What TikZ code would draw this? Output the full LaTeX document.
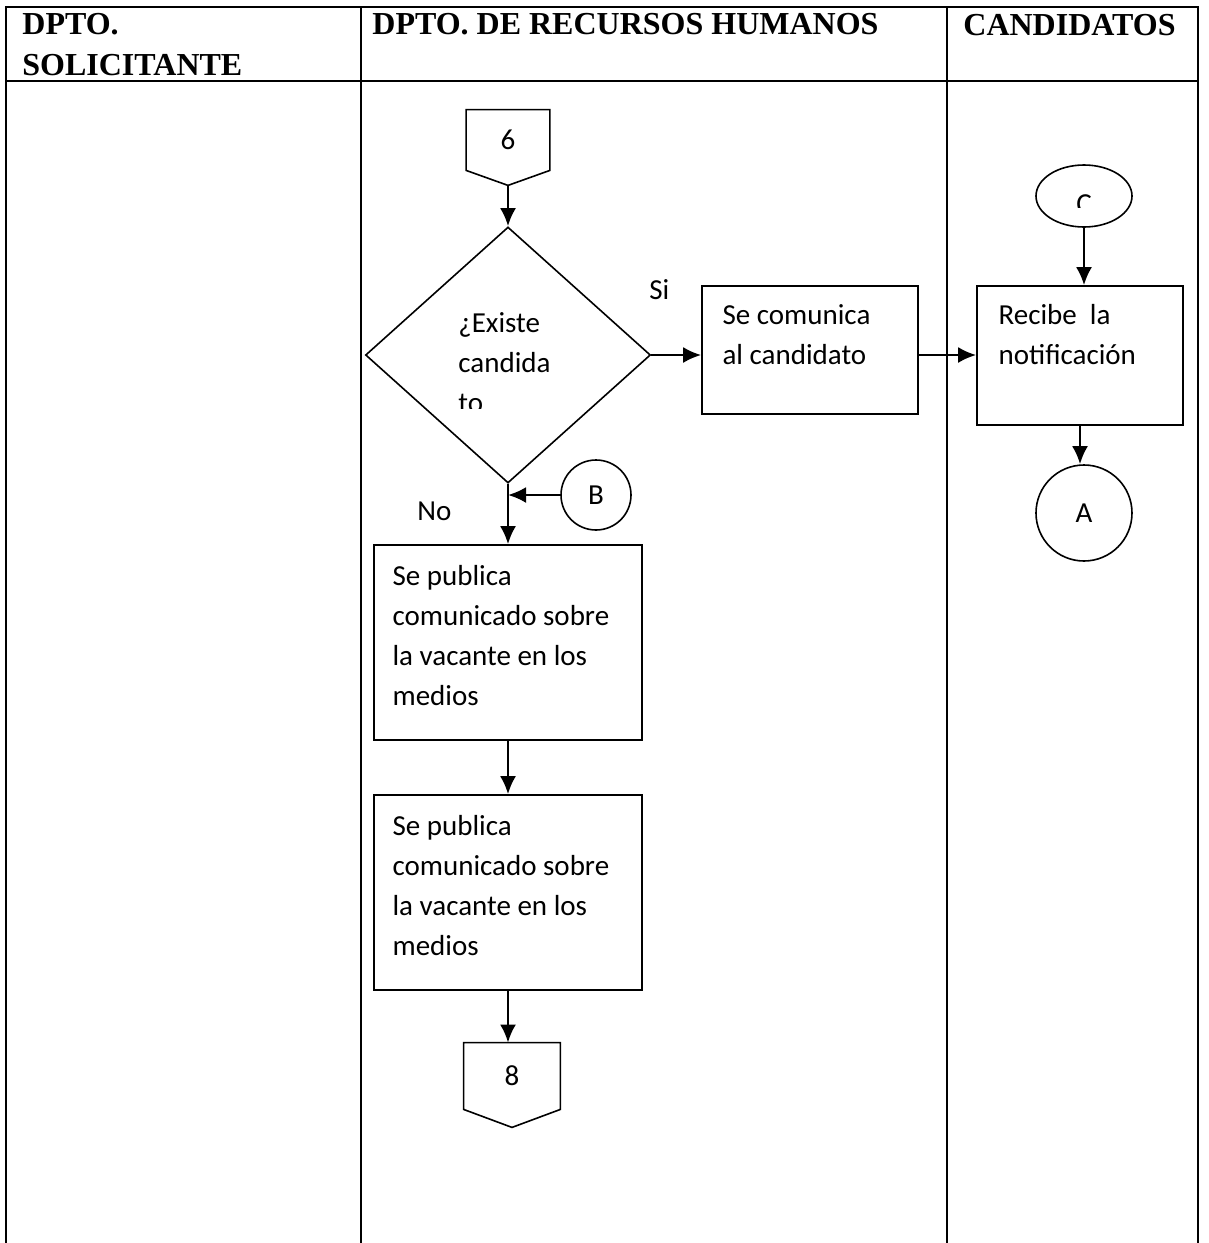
\documentclass[tikz,border=0pt]{standalone}
\usepackage{fontspec}
\setmainfont{Liberation Serif}
\newfontfamily\bodyfont{Carlito}
\usetikzlibrary{shapes.geometric,arrows.meta,calc}

\begin{document}
\begin{tikzpicture}[x=0.5pt, y=-0.5pt,
    frame/.style={line width=1.3pt},
    head/.style={font=\bfseries\fontsize{16}{20.5}\selectfont, anchor=base west, align=left, inner sep=0pt},
    txt/.style={font=\bodyfont\fontsize{14.5}{20}\selectfont, anchor=base west, align=left, inner sep=0pt},
    shp/.style={draw, line width=0.8pt, inner sep=0pt, font=\bodyfont\fontsize{14.5}{20}\selectfont},
    offpage/.style={inner sep=0pt, font=\bodyfont\fontsize{14.5}{20}\selectfont},
    arr/.style={line width=1.3pt, -{Latex[length=9pt,width=8pt]}}]
    \useasboundingbox (0,0) rectangle (1209,1243);
    % table
    \draw[frame] (6,1243) -- (6,7) -- (1198,7) -- (1198,1243);
    \draw[frame] (6,81) -- (1198,81);
    \foreach \x in {361,947} \draw[frame] (\x,7) -- (\x,1243);
    \node[head] (hsol) at (22,75) {DPTO.\\SOLICITANTE};
    \node[head] (hrrhh) at (372,34) {DPTO. DE RECURSOS HUMANOS};
    \node[head] (hcand) at (963,35) {CANDIDATOS};

    % recursos humanos
    \node[offpage, minimum width=41.5pt, minimum height=30pt] (p6) at (508,140) {6};
    \draw[shp] (p6.north west) -- (p6.north east) -- (p6.south east) -- ($(p6.south)+(0,15)$) coordinate (p6tip) -- (p6.south west) -- cycle;
    \node[shp, diamond, minimum width=142.5pt, minimum height=128pt] (dec) at (508,355) {};
    \begin{scope}
        \clip (440,290) rectangle (600,408);
        \node[txt] (dectxt) at (458,412) {¿Existe\\candida\\to};
    \end{scope}
    \node[txt] (si) at (649,299) {Si};
    \node[txt] (no) at (417,520) {No};
    \node[shp, minimum width=108pt, minimum height=64pt] (com) at (810,350) {};
    \node[txt] (comtxt) at ($(com.north west)+(21,79)$) {Se comunica\\al candidato};
    \node[shp, circle, minimum size=35pt] (cb) at (596,495) {B};
    \node[shp, minimum width=134pt, minimum height=97.5pt] (pub1) at (508,642.5) {};
    \node[txt] (pub1txt) at ($(pub1.north west)+(19,161)$) {Se publica\\comunicado sobre\\la vacante en los\\medios};
    \node[shp, minimum width=134pt, minimum height=97.5pt] (pub2) at (508,892.5) {};
    \node[txt] (pub2txt) at ($(pub2.north west)+(19,161)$) {Se publica\\comunicado sobre\\la vacante en los\\medios};
    \node[offpage, minimum width=48pt, minimum height=33pt] (p8) at (512,1076) {8};
    \draw[shp] (p8.north west) -- (p8.north east) -- (p8.south east) -- ($(p8.south)+(0,18)$) coordinate (p8tip) -- (p8.south west) -- cycle;

    % candidatos
    \node[shp, ellipse, minimum width=48pt, minimum height=31pt] (cc) at (1084,196) {};
    \begin{scope}
        \clip (1040,170) rectangle (1130,207);
        \node[txt, anchor=base] (cctxt) at (1084,213) {C};
    \end{scope}
    \node[shp, minimum width=103pt, minimum height=69.5pt] (rec) at (1080,355.5) {};
    \node[txt] (rectxt) at ($(rec.north west)+(22,79)$) {Recibe\ \ la\\notificación};
    \node[shp, circle, minimum size=48pt] (ca) at (1084,513) {A};

    \draw[arr] (p6tip) -- (dec.north);
    \draw[arr] (dec.east) -- (dec.east -| com.west);
    \draw[arr] (dec.east -| com.east) -- (dec.east -| rec.west);
    \draw[arr] (cc.south) -- (cc.south |- rec.north);
    \draw[arr] (rec.south) -- (rec.south |- ca.north);
    \draw[arr] (cb.west) -- (cb.west -| dec.south);
    \draw[arr] (dec.south) -- (pub1.north);
    \draw[arr] (pub1.south) -- (pub2.north);
    \draw[arr] (pub2.south) -- (pub2.south |- p8.north);
\end{tikzpicture}
\end{document}
